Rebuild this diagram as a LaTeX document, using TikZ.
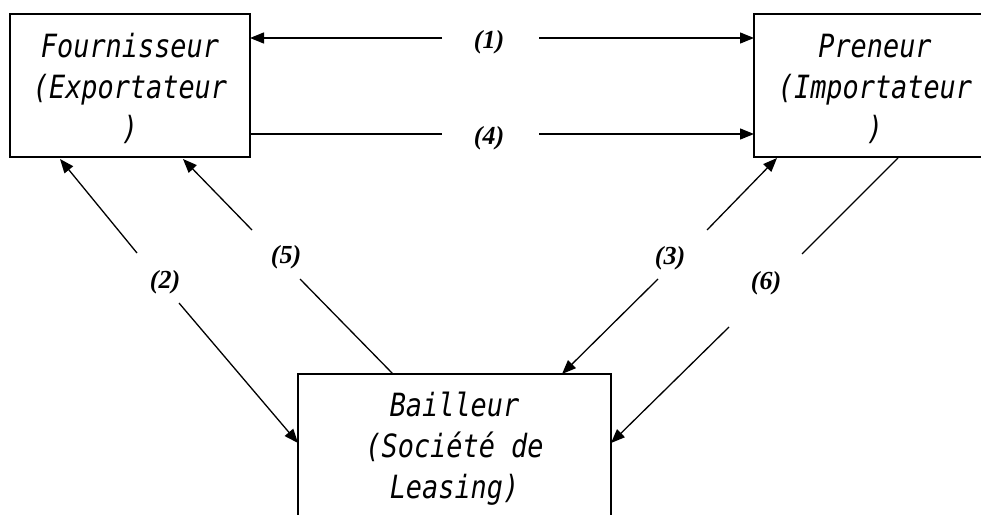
\documentclass[tikz,border=0pt]{standalone}
\usepackage{fontspec}
\newfontfamily\boxfont[FakeStretch=0.84]{DejaVu Sans Mono}
\newfontfamily\labfont{Liberation Serif}
\usetikzlibrary{arrows.meta,calc}
\newcommand\topstrut{\rule{0pt}{31pt}}
\begin{document}
\begin{tikzpicture}[x=1pt,y=-1pt,
  box/.style={draw,line width=1.5pt,inner sep=0pt,align=center,
    font=\boxfont\itshape\fontsize{32}{41}\selectfont},
  conn/.style={line width=1.3pt},
  tip/.style={-{Triangle[length=14pt,width=11pt]}},
  lab/.style={font=\labfont\bfseries\itshape\fontsize{26}{30}\selectfont,inner sep=0pt}]
\clip (0,0) rectangle (981,514);
\fill[white] (0,0) rectangle (981,514);
% boxes
\node[box,minimum width=240pt,minimum height=143pt] (F) at (130,85.5) {\topstrut Fournisseur\\(Exportateur\\)};
\node[box,minimum width=242pt,minimum height=143pt] (P) at (875,85.5) {\topstrut Preneur\\(Importateur\\)};
\node[box,minimum width=313pt,minimum height=143pt] (B) at (454.5,445.5) {\topstrut Bailleur\\(Soci\'et\'e de\\Leasing)};
% labels
\node[lab] (l1) at (489,42) {(1)};
\node[lab] (l4) at (489,138) {(4)};
\node[lab] (l2) at (165,282) {(2)};
\node[lab] (l5) at (286,257) {(5)};
\node[lab] (l3) at (670,258) {(3)};
\node[lab] (l6) at (766,283) {(6)};
% connector end points
\coordinate (a1) at (250,38);   \coordinate (b1) at (754,38);
\coordinate (g1a) at (442,38);  \coordinate (g1b) at (539,38);
\coordinate (a4) at (250,134);  \coordinate (b4) at (754,134);
\coordinate (g4a) at (442,134); \coordinate (g4b) at (539,134);
\coordinate (a2) at (60,159);   \coordinate (b2) at (298,443);
\coordinate (g2a) at (137,253); \coordinate (g2b) at (179,303);
\coordinate (a5) at (183,159);  \coordinate (b5) at (393,374);
\coordinate (g5a) at (252,230); \coordinate (g5b) at (300,279);
\coordinate (a3) at (777,158);  \coordinate (b3) at (562,374);
\coordinate (g3a) at (707,230); \coordinate (g3b) at (658,279);
\coordinate (a6) at (898,158);  \coordinate (b6) at (611,443);
\coordinate (g6a) at (802,254); \coordinate (g6b) at (729,327);
% (1)
\draw[conn,tip] (g1a) -- (a1);
\draw[conn,tip] (g1b) -- (b1);
% (4)
\draw[conn] (a4) -- (g4a);
\draw[conn,tip] (g4b) -- (b4);
% (2)
\draw[conn,tip] (g2a) -- (a2);
\draw[conn,tip] (g2b) -- (b2);
% (5)
\draw[conn,tip] (g5a) -- (a5);
\draw[conn] (g5b) -- (b5);
% (3)
\draw[conn,tip] (g3a) -- (a3);
\draw[conn,tip] (g3b) -- (b3);
% (6)
\draw[conn] (a6) -- (g6a);
\draw[conn,tip] (g6b) -- (b6);
\end{tikzpicture}
\end{document}
